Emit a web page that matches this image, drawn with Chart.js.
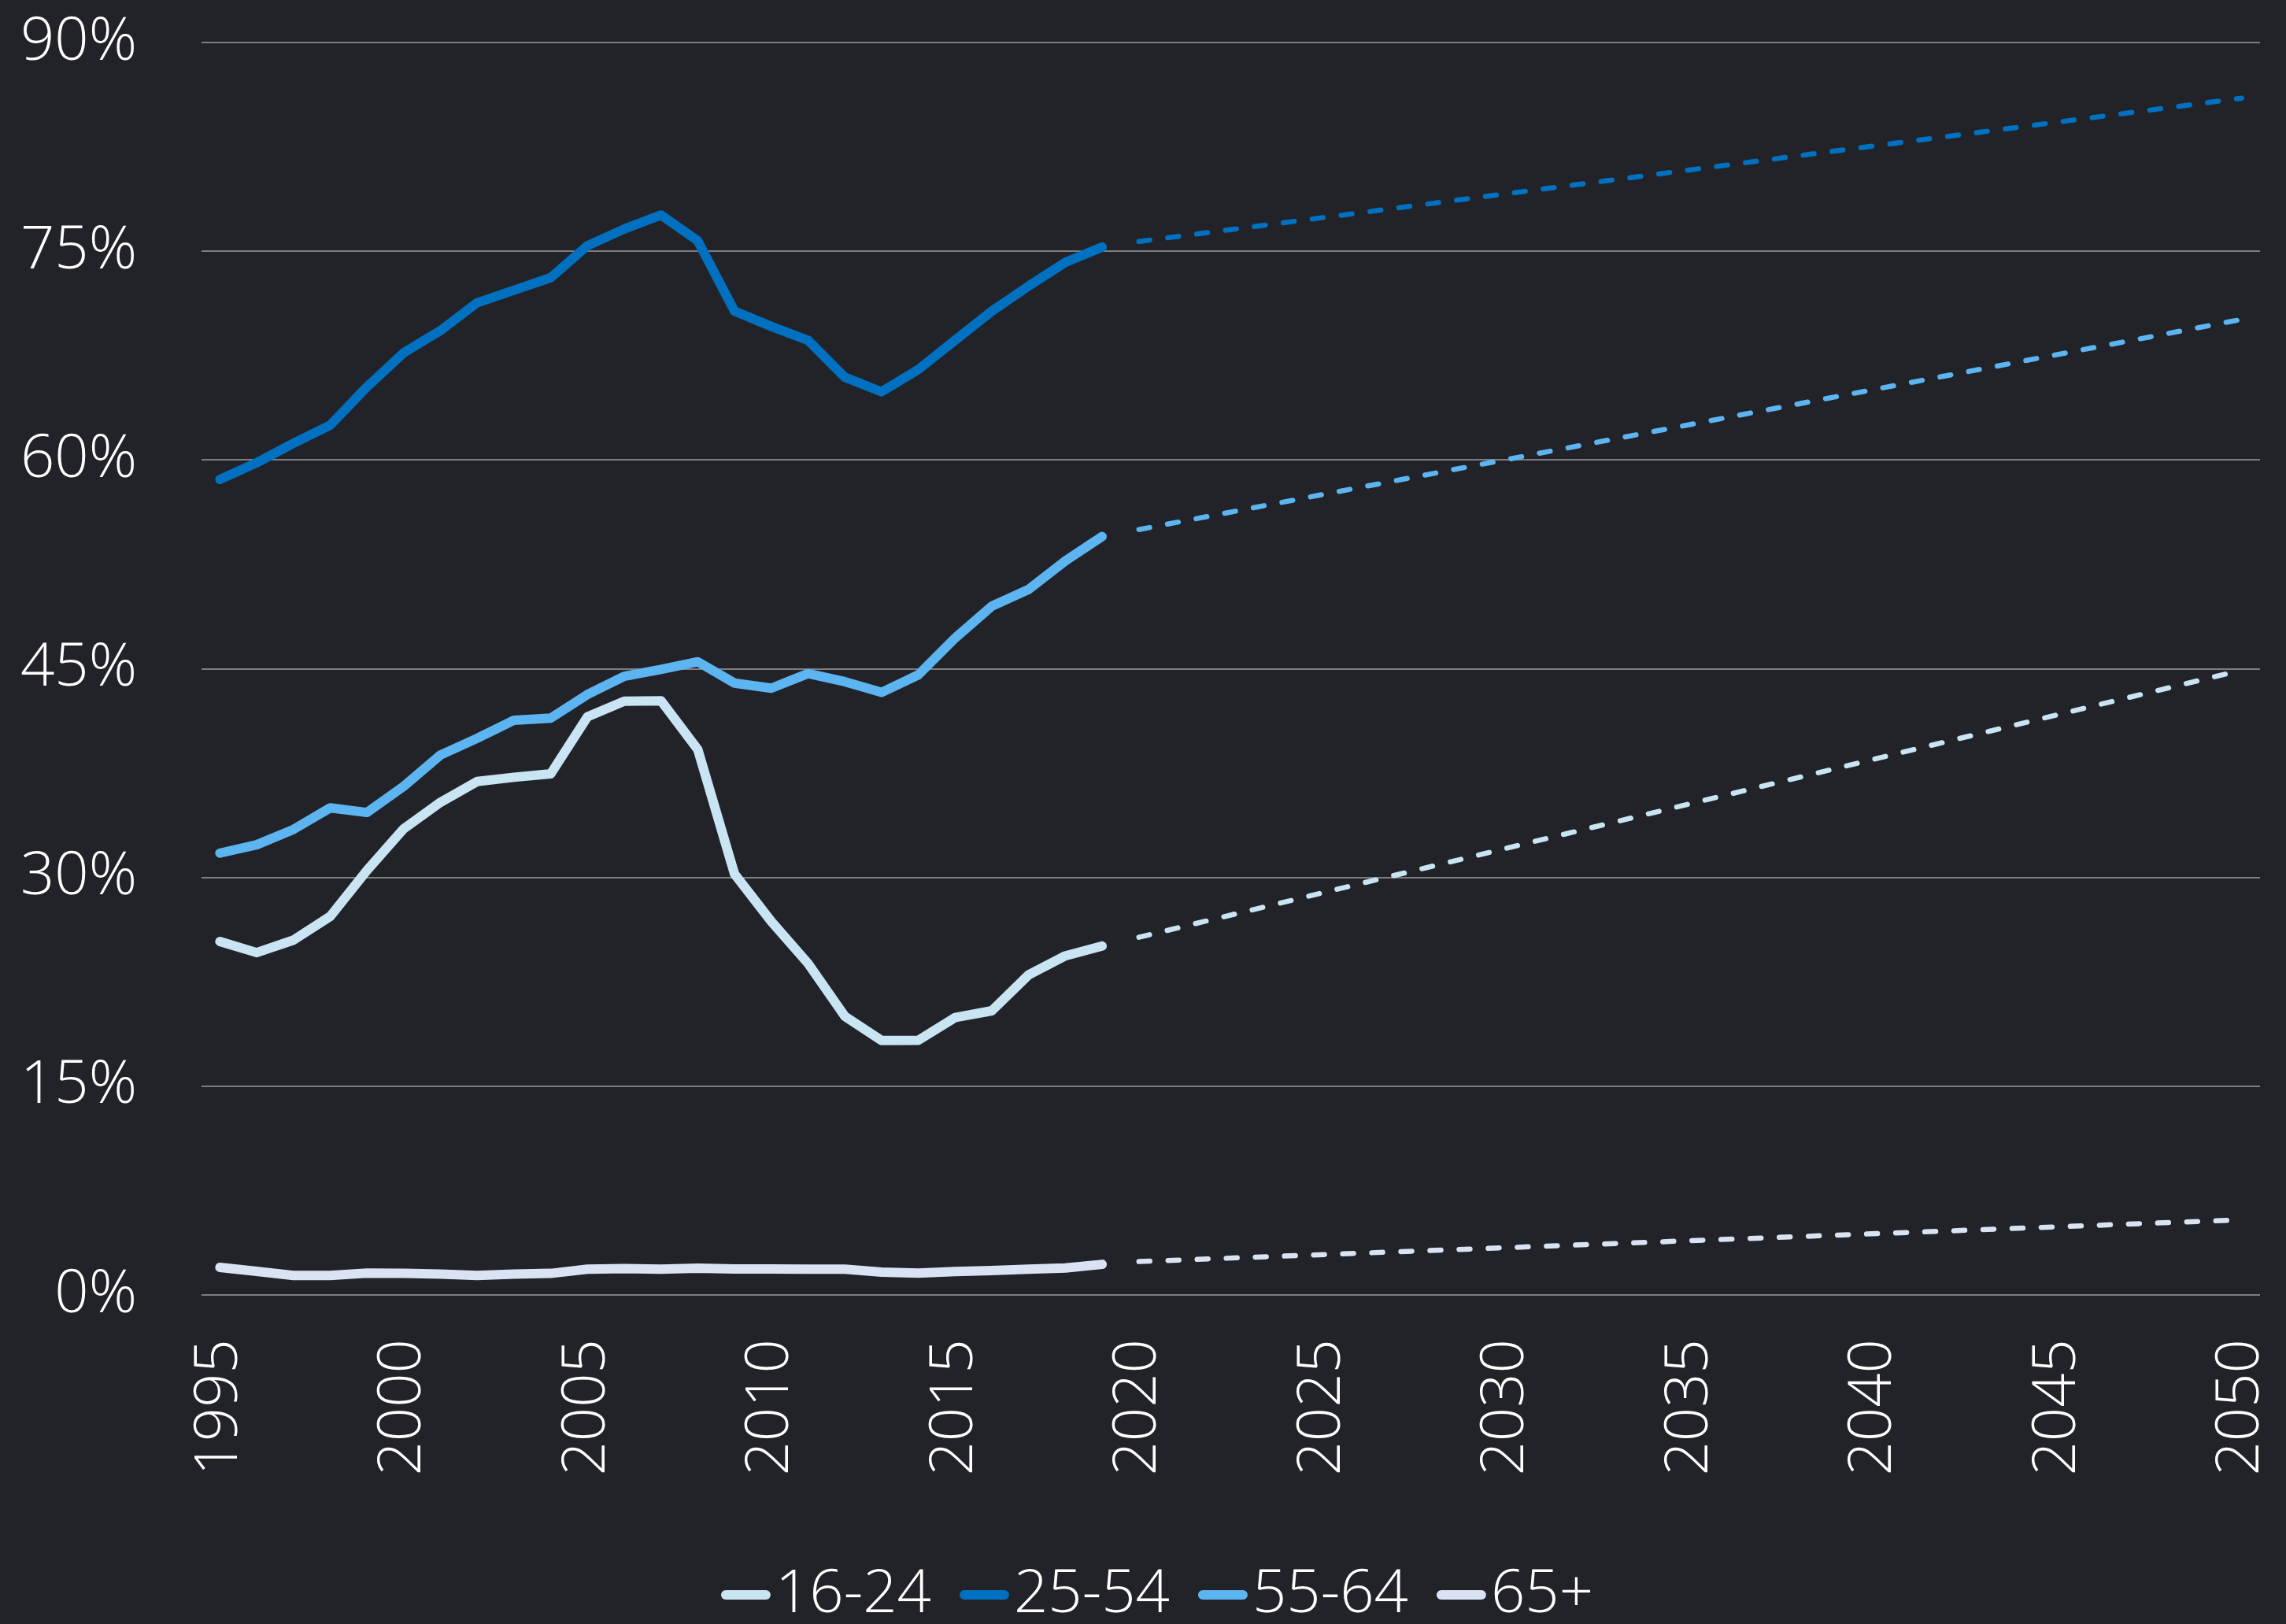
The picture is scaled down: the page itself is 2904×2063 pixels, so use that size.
<!DOCTYPE html>
<html>
<head>
<meta charset="utf-8">
<script src="https://cdn.jsdelivr.net/npm/chart.js@4.4.1/dist/chart.umd.min.js"></script>
<style>
    html, body { margin: 0; padding: 0; background: #222328; }
    #wrap { width: 2904px; height: 2063px; position: relative; }
</style>
</head>
<body>
<div id="wrap"><canvas id="chart"></canvas></div>
<script>
const years = [1995, 1996, 1997, 1998, 1999, 2000, 2001, 2002, 2003, 2004, 2005, 2006,
    2007, 2008, 2009, 2010, 2011, 2012, 2013, 2014, 2015, 2016, 2017, 2018, 2019];
const age16_24 = [25.4, 24.6, 25.5, 27.2, 30.5, 33.5, 35.4, 36.9, 37.2, 37.45, 41.55, 42.67,
    42.7, 39.2, 30.25, 26.84, 23.82, 20.03, 18.28, 18.3, 19.93, 20.42, 23.0, 24.37, 25.07];
const age25_54 = [58.6, 59.8, 61.2, 62.5, 65.25, 67.7, 69.3, 71.3, 72.2, 73.1, 75.4, 76.6,
    77.6, 75.75, 70.7, 69.6, 68.6, 65.95, 64.9, 66.5, 68.6, 70.7, 72.5, 74.2, 75.3];
const age55_64 = [31.75, 32.35, 33.45, 35.0, 34.67, 36.55, 38.8, 40.0, 41.3, 41.45, 43.15, 44.46,
    44.95, 45.5, 43.97, 43.6, 44.65, 44.07, 43.3, 44.56, 47.2, 49.5, 50.7, 52.75, 54.5];
const age65plus = [1.98, 1.7, 1.4, 1.4, 1.57, 1.55, 1.5, 1.4, 1.5, 1.55, 1.85, 1.9,
    1.85, 1.92, 1.87, 1.87, 1.85, 1.85, 1.64, 1.57, 1.68, 1.75, 1.85, 1.94, 2.2];

// projections (dashed)
const projYears = [2020, 2050];
const proj16_24 = [25.7, 44.9];
const proj25_54 = [75.7, 86.0];
const proj55_64 = [55.0, 70.1];
const proj65plus = [2.4, 5.4];

const seriesNames = ['16-24', '25-54', '55-64', '65+'];
const seriesColors = ['#C9E4F3', '#0070C0', '#5CB4F1', '#DAE3F3'];
const xTickYears = [1995, 2000, 2005, 2010, 2015, 2020, 2025, 2030, 2035, 2040, 2045, 2050];
const yTickValues = [0, 15, 30, 45, 60, 75, 90];

const FONT_FAMILY = "'Open Sans', 'Noto Sans', sans-serif";
const FONT_SIZE = 76;
const toPoints = (xs, ys) => xs.map((x, i) => ({ x: x, y: ys[i] }));

const actual = [age16_24, age25_54, age55_64, age65plus];
const projected = [proj16_24, proj25_54, proj55_64, proj65plus];

const datasets = [];
actual.forEach((vals, i) => {
    datasets.push({
        label: seriesNames[i],
        data: toPoints(years, vals),
        borderColor: seriesColors[i],
        backgroundColor: seriesColors[i],
        borderWidth: 12,
        borderCapStyle: 'round',
        borderJoinStyle: 'round',
        pointRadius: 0,
        tension: 0
    });
});
projected.forEach((vals, i) => {
    datasets.push({
        label: seriesNames[i] + ' projection',
        projection: true,
        data: toPoints(projYears, vals),
        borderColor: seriesColors[i],
        borderWidth: 6.5,
        borderCapStyle: 'round',
        borderDash: [14, 23],
        pointRadius: 0,
        tension: 0
    });
});

// no extra room for overhanging tick labels, the plot area is fixed by layout padding
const noScalePadding = (scale) => {
    scale.paddingLeft = 0;
    scale.paddingRight = 0;
    scale.paddingTop = 0;
    scale.paddingBottom = 0;
};

// legend drawn under the axis: short rounded line + label
const bottomLegend = {
    id: 'bottomLegend',
    afterDraw(chart) {
        const ctx = chart.ctx;
        const items = chart.data.datasets.filter(d => !d.projection);
        ctx.save();
        ctx.font = '300 ' + FONT_SIZE + 'px ' + FONT_FAMILY;
        const lineW = 63, gap = 6, spacing = 36;
        const widths = items.map(d => lineW + gap + ctx.measureText(d.label).width);
        const total = widths.reduce((a, b) => a + b, 0) + spacing * (items.length - 1);
        let x = chart.width / 2 + 18 - total / 2;
        const y = chart.height - 37;
        items.forEach((d, i) => {
            ctx.strokeStyle = d.borderColor;
            ctx.lineWidth = 12;
            ctx.lineCap = 'round';
            ctx.beginPath();
            ctx.moveTo(x + 6, y);
            ctx.lineTo(x + lineW - 6, y);
            ctx.stroke();
            ctx.fillStyle = '#FFFFFF';
            ctx.textAlign = 'left';
            ctx.textBaseline = 'middle';
            ctx.fillText(d.label, x + lineW + gap, y);
            x += widths[i] + spacing;
        });
        ctx.restore();
    }
};

const ctx = document.getElementById('chart').getContext('2d');
new Chart(ctx, {
    type: 'line',
    data: { datasets: datasets },
    plugins: [bottomLegend],
    options: {
        responsive: true,
        maintainAspectRatio: false,
        animation: false,
        layout: { padding: { top: 54, right: 33, left: 0, bottom: 0 } },
        plugins: {
            legend: { display: false },
            tooltip: { enabled: false }
        },
        scales: {
            x: {
                type: 'linear',
                min: 1994.5,
                max: 2050.5,
                afterBuildTicks: (scale) => { scale.ticks = xTickYears.map(v => ({ value: v })); },
                afterFit: (scale) => { scale.height = 418; noScalePadding(scale); },
                grid: { display: false, drawTicks: false },
                border: { display: false },
                ticks: {
                    autoSkip: false,
                    minRotation: 90,
                    maxRotation: 90,
                    padding: 56,
                    color: '#FFFFFF',
                    font: { family: FONT_FAMILY, size: FONT_SIZE, weight: '300' },
                    callback: (v) => String(v)
                }
            },
            y: {
                min: 0,
                max: 90,
                afterBuildTicks: (scale) => { scale.ticks = yTickValues.map(v => ({ value: v })); },
                afterFit: (scale) => { scale.width = 256; noScalePadding(scale); },
                grid: { color: '#7E7E7E', lineWidth: 2, drawTicks: false },
                border: { display: false },
                ticks: {
                    padding: 82,
                    color: '#FFFFFF',
                    font: { family: FONT_FAMILY, size: FONT_SIZE, weight: '300' },
                    callback: (v) => v + '%'
                }
            }
        }
    }
});
</script>
</body>
</html>
